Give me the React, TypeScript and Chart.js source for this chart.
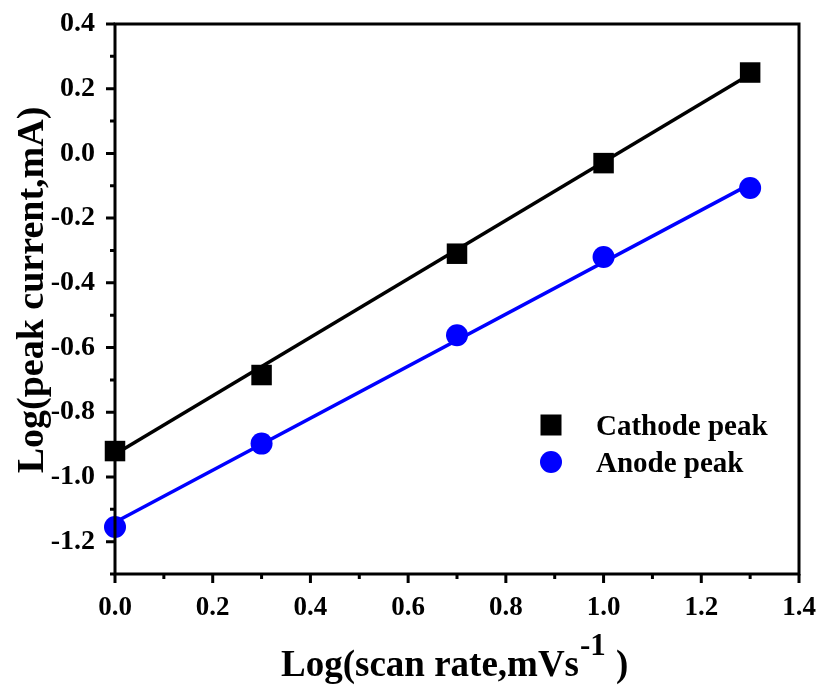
import React, { useEffect, useRef } from 'react';
import { Chart, registerables } from 'chart.js';

Chart.register(...registerables);

// Log of scan rate (mV/s) and log of peak current (mA)
const scanRateLog = [0, 0.3, 0.7, 1.0, 1.3];
const cathodePeak = [-0.92, -0.685, -0.31, -0.03, 0.25];
const anodePeak = [-1.155, -0.897, -0.562, -0.32, -0.107];

// Linear fit end points
const fitX = [0, 1.3];
const cathodeFit = [-0.93, 0.245];
const anodeFit = [-1.14, -0.095];

// Axis ticks
const xTickValues = [0, 0.2, 0.4, 0.6, 0.8, 1.0, 1.2, 1.4];
const xMinorTicks = [0.1, 0.3, 0.5, 0.7, 0.9, 1.1, 1.3];
const yTickValues = [-1.2, -1.0, -0.8, -0.6, -0.4, -0.2, 0.0, 0.2, 0.4];
const yMinorTicks = [-1.3, -1.1, -0.9, -0.7, -0.5, -0.3, -0.1, 0.1, 0.3];

const seriesLabels = ['Cathode peak', 'Anode peak'];
const xTitleMain = 'Log(scan rate,mVs';
const xTitleSup = '-1';
const xTitleTail = ' )';
const yTitle = 'Log(peak current,mA)';

const SERIF = "'Times New Roman', 'Liberation Serif', serif";
const BLUE = '#0000ff';

const frameAndExtras = {
  id: 'frameAndExtras',
  afterDraw(chart: any) {
    const { ctx, chartArea: a, scales } = chart;
    const xs = scales.x;
    const ys = scales.y;
    ctx.save();
    ctx.strokeStyle = '#000';
    ctx.lineWidth = 3;
    // frame
    ctx.strokeRect(a.left, a.top, a.right - a.left, a.bottom - a.top);
    // ticks, pointing outward
    ctx.beginPath();
    xTickValues.forEach((v) => {
      const px = xs.getPixelForValue(v);
      ctx.moveTo(px, a.bottom);
      ctx.lineTo(px, a.bottom + 9);
    });
    xMinorTicks.forEach((v) => {
      const px = xs.getPixelForValue(v);
      ctx.moveTo(px, a.bottom);
      ctx.lineTo(px, a.bottom + 5);
    });
    yTickValues.forEach((v) => {
      const py = ys.getPixelForValue(v);
      ctx.moveTo(a.left, py);
      ctx.lineTo(a.left - 9, py);
    });
    yMinorTicks.forEach((v) => {
      const py = ys.getPixelForValue(v);
      ctx.moveTo(a.left, py);
      ctx.lineTo(a.left - 5, py);
    });
    ctx.stroke();

    ctx.fillStyle = '#000';

    // y axis title
    ctx.save();
    ctx.translate(33, 290);
    ctx.rotate(-Math.PI / 2);
    ctx.textAlign = 'center';
    ctx.textBaseline = 'middle';
    ctx.font = `bold 38px ${SERIF}`;
    ctx.fillText(yTitle, 0, 0);
    ctx.restore();

    // x axis title with superscript
    ctx.textBaseline = 'alphabetic';
    ctx.textAlign = 'left';
    ctx.font = `bold 37px ${SERIF}`;
    const w1 = ctx.measureText(xTitleMain).width;
    ctx.font = `bold 31px ${SERIF}`;
    const w2 = ctx.measureText(xTitleSup).width;
    let tx = 281;
    const baseY = 676;
    ctx.font = `bold 37px ${SERIF}`;
    ctx.fillText(xTitleMain, tx, baseY);
    tx += w1 + 1;
    ctx.font = `bold 31px ${SERIF}`;
    ctx.fillText(xTitleSup, tx, baseY - 21);
    tx += w2 + 1;
    ctx.font = `bold 37px ${SERIF}`;
    ctx.fillText(xTitleTail, tx, baseY);

    // legend
    const legendX = 551;
    const legendRows = [425, 462];
    ctx.font = `bold 29px ${SERIF}`;
    [0, 1].forEach((i) => {
      const ds = chart.data.datasets[i];
      const cy = legendRows[i];
      ctx.fillStyle = ds.backgroundColor;
      if (ds.pointStyle === 'rect') {
        ctx.fillRect(legendX - 10.5, cy - 10.5, 21, 21);
      } else {
        ctx.beginPath();
        ctx.arc(legendX, cy, 11, 0, Math.PI * 2);
        ctx.fill();
      }
      ctx.fillStyle = '#000';
      ctx.fillText(ds.label, 596, cy + 10);
    });
    ctx.restore();
  },
};

export default function App() {
  const canvasRef = useRef<HTMLCanvasElement | null>(null);

  useEffect(() => {
    if (!canvasRef.current) return;
    const toXY = (xsArr: number[], ysArr: number[]) => xsArr.map((x, i) => ({ x, y: ysArr[i] }));
    const chart = new Chart(canvasRef.current, {
      type: 'scatter',
      data: {
        datasets: [
          {
            label: seriesLabels[0],
            data: toXY(scanRateLog, cathodePeak),
            pointStyle: 'rect',
            pointRadius: 14.5,
            backgroundColor: '#000',
            borderColor: '#000',
            borderWidth: 0,
            clip: false,
          },
          {
            label: seriesLabels[1],
            data: toXY(scanRateLog, anodePeak),
            pointStyle: 'circle',
            pointRadius: 11,
            backgroundColor: BLUE,
            borderColor: BLUE,
            borderWidth: 0,
            clip: false,
          },
          {
            label: 'cathode fit',
            type: 'line',
            data: toXY(fitX, cathodeFit),
            showLine: true,
            borderColor: '#000',
            borderWidth: 3.5,
            pointRadius: 0,
            clip: false,
          },
          {
            label: 'anode fit',
            type: 'line',
            data: toXY(fitX, anodeFit),
            showLine: true,
            borderColor: BLUE,
            borderWidth: 3.5,
            pointRadius: 0,
            clip: false,
          },
        ] as any,
      },
      options: {
        animation: false,
        responsive: false,
        layout: { padding: { top: 24, right: 18, left: 0, bottom: 0 } },
        plugins: { legend: { display: false }, tooltip: { enabled: false } },
        scales: {
          x: {
            type: 'linear',
            min: 0,
            max: 1.4,
            grid: { display: false, drawTicks: false },
            border: { display: false },
            afterBuildTicks: (s: any) => {
              s.ticks = xTickValues.map((v) => ({ value: v }));
            },
            afterFit: (s: any) => {
              s.height = 113;
              s.paddingLeft = 0;
              s.paddingRight = 0;
            },
            ticks: {
              padding: 18,
              color: '#000',
              font: { family: SERIF, size: 27, weight: 'bold' },
              maxRotation: 0,
              callback: (v: any) => Number(v).toFixed(1),
            },
          },
          y: {
            type: 'linear',
            min: -1.3,
            max: 0.4,
            grid: { display: false, drawTicks: false },
            border: { display: false },
            afterBuildTicks: (s: any) => {
              s.ticks = yTickValues.map((v) => ({ value: v }));
            },
            afterFit: (s: any) => {
              s.width = 115;
              s.paddingTop = 0;
              s.paddingBottom = 0;
            },
            ticks: {
              padding: 20,
              color: '#000',
              font: { family: SERIF, size: 28, weight: 'bold' },
              callback: (v: any) => Number(v).toFixed(1),
            },
          },
        },
      },
      plugins: [frameAndExtras],
    } as any);
    return () => chart.destroy();
  }, []);

  return (
    <div style={{ position: 'absolute', left: 0, top: 0, width: 817, height: 687, background: '#fff' }}>
      <canvas ref={canvasRef} width={817} height={687} />
    </div>
  );
}
